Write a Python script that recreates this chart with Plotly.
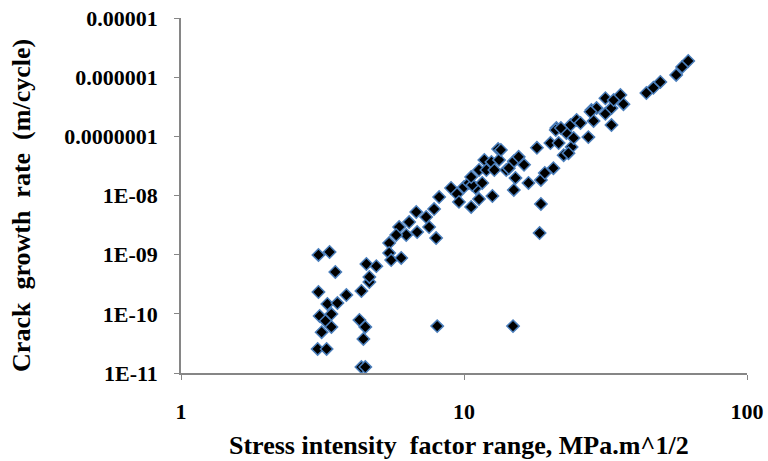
import plotly.graph_objects as go

# Stress intensity factor range, MPa.m^1/2
delta_k = [
    3.06, 3.35, 3.51, 3.06, 3.29, 3.57, 3.84, 3.09, 3.24, 3.40,
    3.40, 3.14, 3.04, 3.27, 4.52, 4.90, 4.63, 4.34, 4.27, 4.48,
    4.41, 4.34, 4.48, 4.63, 8.04, 14.9, 18.5, 18.7, 5.44, 5.44,
    5.53, 6.00, 5.90, 6.25, 6.40, 6.78, 6.83, 7.53, 7.35, 7.84,
    7.97, 8.17, 9.00, 9.45, 10.0, 10.4, 10.6, 11.0, 9.60, 11.3,
    12.6, 10.7, 11.6, 10.6, 11.3, 11.8, 12.0, 13.2, 12.5, 12.8,
    13.3, 14.1, 15.0, 15.6, 15.2, 15.0, 16.9, 18.1, 18.7, 19.3,
    20.7, 20.2, 21.2, 23.0, 22.5, 24.0, 23.8, 25.0, 13.5, 14.4,
    16.3, 21.6, 23.4, 24.4, 25.8, 27.5, 28.2, 28.7, 29.4, 31.6,
    31.6, 33.2, 33.2, 33.8, 35.7, 36.6, 44.1, 46.7, 49.4, 56.2,
    59.0, 62.0, 21.1, 22.0, 5.76, 28.0,
]

# Crack growth rate, m/cycle
growth_rate = [
    9.9e-10, 1.11e-9, 5.1e-10, 2.34e-10, 1.47e-10, 1.52e-10, 2.08e-10, 9.2e-11, 7.6e-11, 9.9e-11,
    6.0e-11, 4.9e-11, 2.55e-11, 2.55e-11, 6.95e-10, 6.4e-10, 3.45e-10, 2.43e-10, 7.9e-11, 6.0e-11,
    3.76e-11, 1.26e-11, 1.26e-11, 4.2e-10, 6.2e-11, 6.2e-11, 2.32e-9, 7.2e-9, 1.57e-9, 1.07e-9,
    8.1e-10, 8.8e-10, 2.93e-9, 2.15e-9, 3.56e-9, 5.26e-9, 2.41e-9, 2.93e-9, 4.33e-9, 5.9e-9,
    1.91e-9, 9.4e-9, 1.34e-8, 1.06e-8, 1.39e-8, 1.63e-8, 6.4e-9, 1.34e-8, 7.8e-9, 8.7e-9,
    9.8e-9, 1.5e-8, 1.63e-8, 2.05e-8, 2.7e-8, 4.0e-8, 2.7e-8, 6.1e-8, 3.7e-8, 2.7e-8,
    4.0e-8, 2.7e-8, 3.8e-8, 4.5e-8, 1.98e-8, 1.24e-8, 1.63e-8, 6.4e-8, 1.83e-8, 2.4e-8,
    2.9e-8, 7.7e-8, 1.38e-7, 1.14e-7, 4.8e-8, 6.6e-8, 1.55e-7, 1.89e-7, 5.9e-8, 2.9e-8,
    3.3e-8, 7.7e-8, 5.2e-8, 9.4e-8, 1.68e-7, 9.7e-8, 2.8e-7, 1.82e-7, 3.0e-7, 4.4e-7,
    2.4e-7, 3.0e-7, 1.55e-7, 4.1e-7, 5.0e-7, 3.5e-7, 5.4e-7, 6.6e-7, 8.3e-7, 1.09e-6,
    1.49e-6, 1.88e-6, 1.28e-7, 1.38e-7, 2.15e-9, 2.6e-7,
]

x_tick_vals = [1, 10, 100]
x_tick_text = ["1", "10", "100"]
y_tick_vals = [1e-11, 1e-10, 1e-9, 1e-8, 1e-7, 1e-6, 1e-5]
y_tick_text = ["1E-11", "1E-10", "1E-09", "1E-08", "0.0000001", "0.000001", "0.00001"]

x_title = "Stress intensity  factor range, MPa.m^1/2"
y_title = "Crack  growth  rate  (m/cycle)"

SERIF = "Liberation Serif, Times New Roman, serif"
AXIS_GREY = "#868686"

fig = go.Figure(
    go.Scatter(
        x=delta_k,
        y=growth_rate,
        mode="markers",
        marker=dict(
            symbol="diamond",
            size=9.5,
            color="black",
            line=dict(color="#4A7EBB", width=1.5),
        ),
        showlegend=False,
    )
)

fig.update_layout(
    width=768,
    height=461,
    margin=dict(l=181, r=21, t=18, b=88),
    paper_bgcolor="white",
    plot_bgcolor="white",
    font=dict(family=SERIF, color="black"),
)

axis_common = dict(
    type="log",
    tickfont=dict(family=SERIF, size=22, weight="bold"),
    ticks="outside",
    ticklen=5,
    tickcolor=AXIS_GREY,
    showline=True,
    linecolor=AXIS_GREY,
    linewidth=1.5,
    showgrid=False,
    zeroline=False,
    automargin=False,
)

fig.update_xaxes(
    range=[0, 2],
    tickvals=x_tick_vals,
    ticktext=x_tick_text,
    ticklabelstandoff=13,
    **axis_common,
)

fig.update_yaxes(
    range=[-11, -5],
    tickvals=y_tick_vals,
    ticktext=y_tick_text,
    ticklabelstandoff=12,
    **axis_common,
)

# Axis titles placed as annotations for precise positioning
title_font = dict(family=SERIF, size=26, color="black", weight="bold")
fig.add_annotation(
    text=x_title, xref="paper", yref="paper",
    x=0.491, y=-0.203, xanchor="center", yanchor="middle",
    showarrow=False, font=title_font,
)
fig.add_annotation(
    text=y_title, xref="paper", yref="paper",
    x=-0.283, y=0.473, xanchor="center", yanchor="middle",
    textangle=-90, showarrow=False, font=title_font,
)

fig.write_html("out.html")
